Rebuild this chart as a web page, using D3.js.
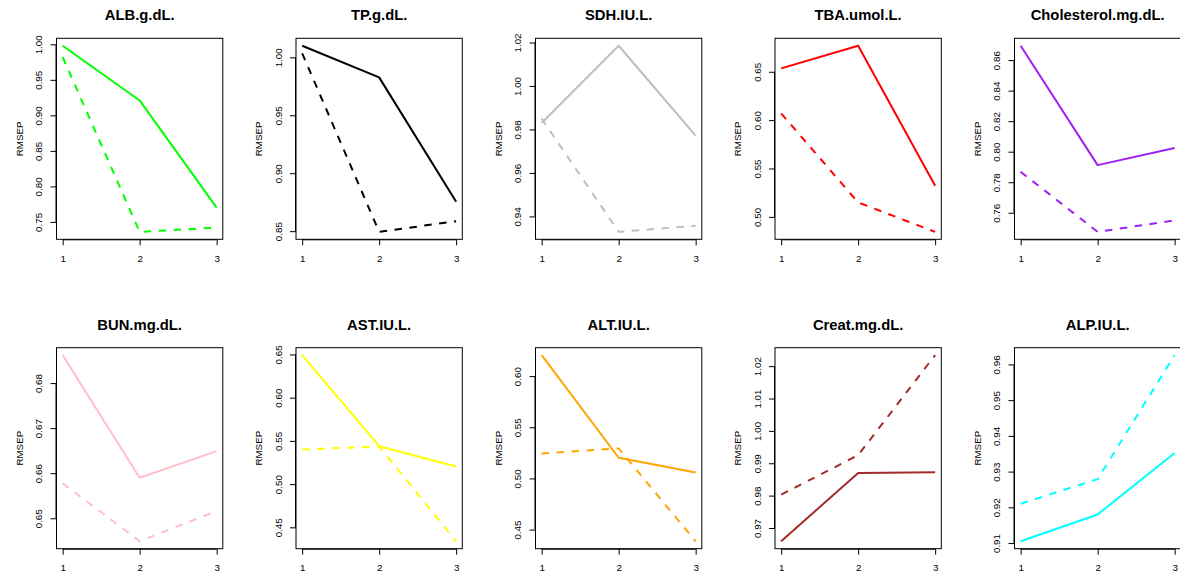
<!DOCTYPE html>
<html>
<head>
<meta charset="utf-8">
<script src="https://cdn.jsdelivr.net/npm/d3@7/dist/d3.min.js"></script>
<style>
  html, body { margin: 0; padding: 0; background: #fff; }
  svg { display: block; }
  text { font-family: "Liberation Sans", Arial, Helvetica, sans-serif; fill: #000; }
</style>
</head>
<body>
<svg id="chart" width="1180" height="575"></svg>
<script>
// ---- data ----
const titles = ["ALB.g.dL.", "TP.g.dL.", "SDH.IU.L.", "TBA.umol.L.", "Cholesterol.mg.dL.",
                "BUN.mg.dL.", "AST.IU.L.", "ALT.IU.L.", "Creat.mg.dL.", "ALP.IU.L."];
const colors = ["#00FF00", "#000000", "#BEBEBE", "#FF0000", "#A020F0",
                "#FFC0CB", "#FFFF00", "#FFA500", "#A52A2A", "#00FFFF"];
const components = [1, 2, 3];
const yLabel = "RMSEP";
const solidValues = [
  [0.998, 0.921, 0.770],
  [1.010, 0.9827, 0.8753],
  [0.983, 1.0185, 0.9772],
  [0.6535, 0.6769, 0.5321],
  [0.8694, 0.7912, 0.8024],
  [0.6862, 0.6590, 0.6649],
  [0.6492, 0.5439, 0.5204],
  [0.6205, 0.5202, 0.5058],
  [0.9659, 0.9870, 0.9872],
  [0.9105, 0.9180, 0.9352]
];
const dashedValues = [
  [0.982, 0.736, 0.742],
  [1.0035, 0.8494, 0.8586],
  [0.985, 0.9329, 0.9357],
  [0.607, 0.5149, 0.4845],
  [0.7868, 0.7475, 0.755],
  [0.6578, 0.6449, 0.6516],
  [0.540, 0.5435, 0.4339],
  [0.5244, 0.5293, 0.4386],
  [0.9803, 0.9925, 1.0234],
  [0.9210, 0.9279, 0.9626]
];

// ---- layout ----
const colStep = 239.5, rowStep = 309.4;
const boxLeft = 56.5, boxTop = 38.3, boxW = 166.3, boxH = 201;
const svg = d3.select("#chart");

titles.forEach((title, k) => {
  const col = k % 5, row = Math.floor(k / 5);
  const ox = col * colStep, oy = row * rowStep;
  const x0 = ox + boxLeft, x1 = x0 + boxW;
  const y0 = oy + boxTop, y1 = y0 + boxH;

  const all = solidValues[k].concat(dashedValues[k]);
  const mn = d3.min(all), mx = d3.max(all), r = mx - mn;
  const xr = d3.extent(components);
  const xpad = (xr[1] - xr[0]) * 0.04;

  const x = d3.scaleLinear().domain([xr[0] - xpad, xr[1] + xpad]).range([x0, x1]);
  const y = d3.scaleLinear().domain([mn - 0.04 * r, mx + 0.04 * r]).range([y1, y0]);

  const g = svg.append("g");

  // lines
  const line = d3.line().x((d, i) => x(components[i])).y(d => y(d));
  g.append("path").datum(solidValues[k])
    .attr("d", line).attr("fill", "none")
    .attr("stroke", colors[k]).attr("stroke-width", 2)
    .attr("stroke-linejoin", "round");
  g.append("path").datum(dashedValues[k])
    .attr("d", line).attr("fill", "none")
    .attr("stroke", colors[k]).attr("stroke-width", 2)
    .attr("stroke-dasharray", "7.5,7.5")
    .attr("stroke-linejoin", "round");

  // x axis
  const xa = g.append("g").attr("transform", `translate(0,${y1})`)
    .call(d3.axisBottom(x).tickValues(components).tickFormat(d3.format("d"))
      .tickSize(6).tickSizeOuter(0).tickPadding(9.5));
  xa.select(".domain").remove();
  xa.append("line").attr("x1", x(components[0])).attr("x2", x(components[components.length - 1]))
    .attr("y1", 0.5).attr("y2", 0.5).attr("stroke", "#000");
  xa.selectAll("text").attr("font-size", "9.8px").attr("fill", "#000")
    .style("font-family", '"Liberation Sans", Arial, Helvetica, sans-serif');

  // y axis
  const ticks = y.ticks(5);
  const ya = g.append("g").attr("transform", `translate(${x0},0)`)
    .call(d3.axisLeft(y).tickValues(ticks).tickFormat(y.tickFormat(5))
      .tickSize(6).tickSizeOuter(0));
  ya.select(".domain").remove();
  ya.append("line").attr("y1", y(ticks[0])).attr("y2", y(ticks[ticks.length - 1]))
    .attr("x1", -0.5).attr("x2", -0.5).attr("stroke", "#000");
  ya.selectAll(".tick text")
    .attr("transform", "rotate(-90)")
    .attr("text-anchor", "middle")
    .attr("x", 0).attr("y", -14.2).attr("dy", null)
    .attr("font-size", "9.8px").attr("fill", "#000")
    .style("font-family", '"Liberation Sans", Arial, Helvetica, sans-serif');

  // box
  g.append("rect").attr("x", x0).attr("y", y0).attr("width", boxW).attr("height", boxH)
    .attr("fill", "none").attr("stroke", "#000").attr("stroke-width", 1);

  // y label
  g.append("text")
    .attr("transform", `translate(${x0 - 33.7},${(y0 + y1) / 2}) rotate(-90)`)
    .attr("text-anchor", "middle").attr("font-size", "9.8px")
    .text(yLabel);

  // title
  g.append("text")
    .attr("x", (x0 + x1) / 2).attr("y", y0 - 18)
    .attr("text-anchor", "middle").attr("font-size", "14.8px").attr("font-weight", "bold")
    .text(title);
});
</script>
</body>
</html>
